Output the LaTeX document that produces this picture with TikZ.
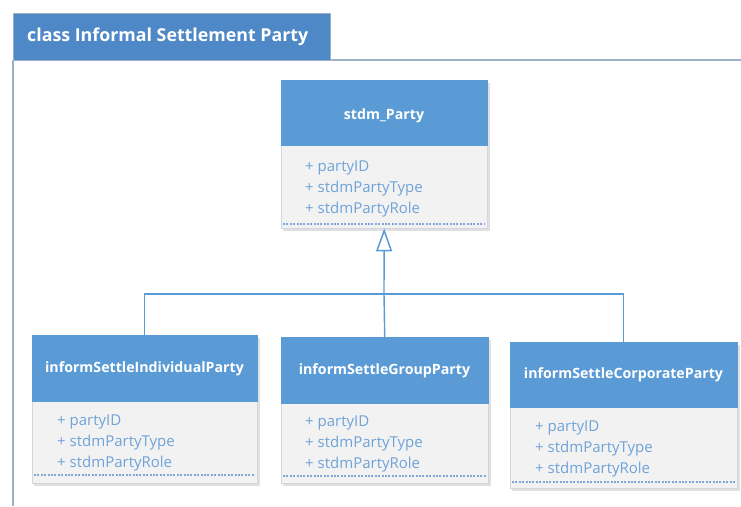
\documentclass[tikz,border=0pt]{standalone}
\usepackage{fontspec}
\setmainfont{Open Sans}
\usetikzlibrary{arrows.meta,shadows}
\definecolor{hdrblue}{HTML}{5B9BD5}
\definecolor{tabblue}{HTML}{4E88C7}
\definecolor{framegray}{HTML}{9DB1C8}
\definecolor{attrfill}{HTML}{F2F2F2}
\definecolor{attrborder}{HTML}{D3D7DC}
\definecolor{attrtext}{HTML}{6FA3D8}
\definecolor{dashblue}{HTML}{7FA8D6}
\definecolor{linkblue}{HTML}{5B9BD5}
\tikzset{
  classhdr/.style={draw=hdrblue, fill=hdrblue, anchor=north west, inner sep=0pt},
  classname/.style={text=white, inner sep=0pt, font=\bfseries\fontsize{14.2}{16}\selectfont},
  classattr/.style={draw=attrborder, fill=attrfill, anchor=north west, inner sep=0pt},
  attrlines/.style={anchor=west, inner sep=0pt, align=left, text=attrtext,
    font=\fontsize{15}{21}\selectfont},
  sepline/.style={draw=dashblue, dash pattern=on 2pt off 1.4pt, line width=1.3pt},
  shadowbox/.style={fill=black!12, draw=none},
  link/.style={draw=linkblue, line width=1.4pt},
  genarrow/.style={-{Triangle[open, length=23pt, width=16pt, line width=1.5pt]}}
}
\begin{document}
\begin{tikzpicture}[x=1pt,y=-1pt]
\useasboundingbox (0,0) rectangle (741,506);
% frame
\draw[framegray, line width=1.6pt] (13,60) -- (741,60);
\draw[framegray, line width=1.6pt] (13,60) -- (13,506);
\node[fill=tabblue, draw=framegray, line width=0.8pt, anchor=north west, inner sep=0pt,
  minimum width=317pt, minimum height=47pt] (tab) at (13,13) {};
\node[anchor=west, text=white, font=\bfseries\fontsize{17.8}{20}\selectfont, inner sep=0pt]
  (title) at (27,37) {class Informal Settlement Party};

% shadows
\fill[shadowbox] (283,83) rectangle (490,231);
\fill[shadowbox] (34,338) rectangle (260,486);
\fill[shadowbox] (283,340) rectangle (491,486);
\fill[shadowbox] (512,345) rectangle (740,491);

% stdm_Party
\node[classattr, minimum width=206pt, minimum height=83pt] (pa) at (281,145) {};
\node[classhdr, minimum width=206pt, minimum height=65pt] (p) at (281,80) {};
\node[classname] (pn) at (384,116) {stdm\_Party};
\node[attrlines] (pt) at (305,189) {+ partyID\\+ stdmPartyType\\+ stdmPartyRole};
\draw[sepline] (283,224) -- (485,224);

% informSettleIndividualParty
\node[classattr, minimum width=225pt, minimum height=82pt] (ia) at (32,401) {};
\node[classhdr, minimum width=225pt, minimum height=66pt] (i) at (32,335) {};
\node[classname] (in) at (144.5,369) {informSettleIndividualParty};
\node[attrlines] (it) at (57,443) {+ partyID\\+ stdmPartyType\\+ stdmPartyRole};
\draw[sepline] (34,475) -- (255,475);

% informSettleGroupParty
\node[classattr, minimum width=207pt, minimum height=80pt] (ga) at (281,403) {};
\node[classhdr, minimum width=207pt, minimum height=66pt] (g) at (281,337) {};
\node[classname] (gn) at (384.5,371) {informSettleGroupParty};
\node[attrlines] (gt) at (305,444) {+ partyID\\+ stdmPartyType\\+ stdmPartyRole};
\draw[sepline] (283,476) -- (486,476);

% informSettleCorporateParty
\node[classattr, minimum width=227pt, minimum height=81pt] (ca) at (510,407) {};
\node[classhdr, minimum width=227pt, minimum height=65pt] (c) at (510,342) {};
\node[classname] (cn) at (623.5,375) {informSettleCorporateParty};
\node[attrlines] (ct) at (535,449) {+ partyID\\+ stdmPartyType\\+ stdmPartyRole};
\draw[sepline] (512,482) -- (735,482);

% generalization connectors
\coordinate (j) at (384,294);
\draw[link] (i.north) |- (j);
\draw[link] (c.north) |- (j);
\draw[link] (g.north) -- (j);
\draw[link, genarrow] (j) -- (pa.south);
\end{tikzpicture}
\end{document}
